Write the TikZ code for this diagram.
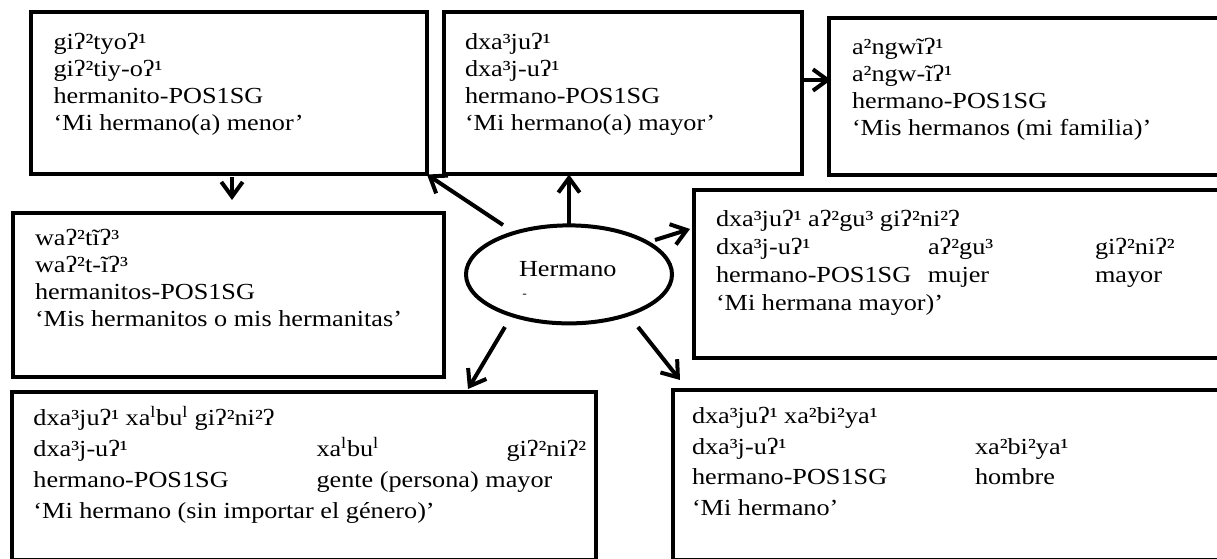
\documentclass[tikz,border=0pt]{standalone}
\usepackage{fontspec}
\setmainfont{Liberation Serif}[FakeStretch=1.14]
\usetikzlibrary{arrows.meta,shapes.geometric,calc}
\newlength\pxu
\setlength\pxu{0.75pt}
% a fixed-width column inside a gloss line
\newcommand\gcol[2]{\makebox[#1\pxu][l]{#2}}
\begin{document}
\begin{tikzpicture}[x=0.75pt,y=-0.75pt,
  box/.style={draw, rectangle, line width=3pt, inner sep=0pt, outer sep=0pt, anchor=north west},
  gloss/.style={anchor=base west, inner sep=0pt, outer sep=0pt, font=\fontsize{17.25}{20.25}\selectfont},
  arr/.style={line width=3pt, -{Straight Barb[length=11pt,width=16pt]}},
]
\useasboundingbox (0,0) rectangle (1217,559);
\fill[white] (0,0) rectangle (1217,559);
\begin{scope}
\clip (0,0) rectangle (1217,559);
% boxes (the right-hand and lower ones run past the edge)
\node[box, minimum width=396.5\pxu, minimum height=162\pxu] (b1) at (30.5,12.5) {};
\node[box, minimum width=358\pxu,   minimum height=162\pxu] (b2) at (443.8,12.5) {};
\node[box, minimum width=420\pxu,   minimum height=156.7\pxu] (b3) at (829,18.3) {};
\node[box, minimum width=431\pxu,   minimum height=163.4\pxu] (b4) at (12.5,213.3) {};
\node[box, minimum width=560\pxu,   minimum height=168\pxu] (b5) at (693.5,190.3) {};
\node[box, minimum width=584\pxu,   minimum height=168\pxu] (b6) at (11.5,392) {};
\node[box, minimum width=560\pxu,   minimum height=170\pxu] (b7) at (672.5,390) {};
\end{scope}

% central ellipse
\node[draw, ellipse, line width=3pt, inner sep=0pt, outer sep=0pt,
      minimum width=206\pxu, minimum height=98\pxu] (ell) at (569,274.4) {};
\node[gloss] (hw) at (519,277) {Hermano};
\node[anchor=base west, inner sep=0pt, font=\fontsize{9}{10}\selectfont] (hd) at (522,298) {-};

% gloss texts
\node[gloss] (t1) at (53.5,50) {%
  \begin{tabular}[t]{@{}l@{}}giʔ²tyoʔ¹\\giʔ²tiy-oʔ¹\\hermanito-POS1SG\\‘Mi hermano(a) menor’\end{tabular}};
\node[gloss] (t2) at (465,50) {%
  \begin{tabular}[t]{@{}l@{}}dxa³juʔ¹\\dxa³j-uʔ¹\\hermano-POS1SG\\‘Mi hermano(a) mayor’\end{tabular}};
\node[gloss] (t3) at (852,55) {%
  \begin{tabular}[t]{@{}l@{}}a²ngwĩʔ¹\\a²ngw-ĩʔ¹\\hermano-POS1SG\\‘Mis hermanos (mi familia)’\end{tabular}};
\node[gloss] (t4) at (35,245.5) {%
  \begin{tabular}[t]{@{}l@{}}waʔ²tĩʔ³\\waʔ²t-ĩʔ³\\hermanitos-POS1SG\\‘Mis hermanitos o mis hermanitas’\end{tabular}};
\node[gloss, font=\fontsize{17.25}{21}\selectfont] (t5) at (716,227) {%
  \begin{tabular}[t]{@{}l@{}}dxa³juʔ¹ aʔ²gu³ giʔ²ni²ʔ\\
  \gcol{212}{dxa³j-uʔ¹}\gcol{167}{aʔ²gu³}giʔ²niʔ²\\
  \gcol{212}{hermano-POS1SG}\gcol{167}{mujer}mayor\\
  ‘Mi hermana mayor)’\end{tabular}};
\node[gloss, font=\fontsize{17.25}{23.25}\selectfont] (t6) at (33.5,426) {%
  \begin{tabular}[t]{@{}l@{}}dxa³juʔ¹ xa\textsuperscript{l}bu\textsuperscript{l} giʔ²ni²ʔ\\
  \gcol{283}{dxa³j-uʔ¹}\gcol{190}{xa\textsuperscript{l}bu\textsuperscript{l}}giʔ²niʔ²\\
  \gcol{283}{hermano-POS1SG}gente (persona) mayor\\
  ‘Mi hermano (sin importar el género)’\end{tabular}};
\node[gloss, font=\fontsize{17.25}{23.25}\selectfont] (t7) at (692,423) {%
  \begin{tabular}[t]{@{}l@{}}dxa³juʔ¹ xa²bi²ya¹\\
  \gcol{283}{dxa³j-uʔ¹}xa²bi²ya¹\\
  \gcol{283}{hermano-POS1SG}hombre\\
  ‘Mi hermano’\end{tabular}};

% free ends of the connectors
\coordinate (ul-s) at (503,225);
\coordinate (r-s)  at (655,240);
\coordinate (r-e)  at (690,229);
\coordinate (ll-s) at (505,327);
\coordinate (ll-e) at (468,389);
\coordinate (lr-s) at (638,327);
\coordinate (lr-e) at (680,380);
\coordinate (d-s)  at (232,177);
\coordinate (d-e)  at (232,200);
\coordinate (h-s)  at (803,80);
\coordinate (h-e)  at (831,80);

% connectors
\draw[arr] (ell.north) -- (ell.north |- b2.south);
\draw[arr] (ul-s) -- (b1.south east);
\draw[arr] (r-s) -- (r-e);
\draw[arr] (ll-s) -- (ll-e);
\draw[arr] (lr-s) -- (lr-e);
\draw[arr] (d-s) -- (d-e);
\draw[arr] (h-s) -- (h-e);
\end{tikzpicture}
\end{document}
